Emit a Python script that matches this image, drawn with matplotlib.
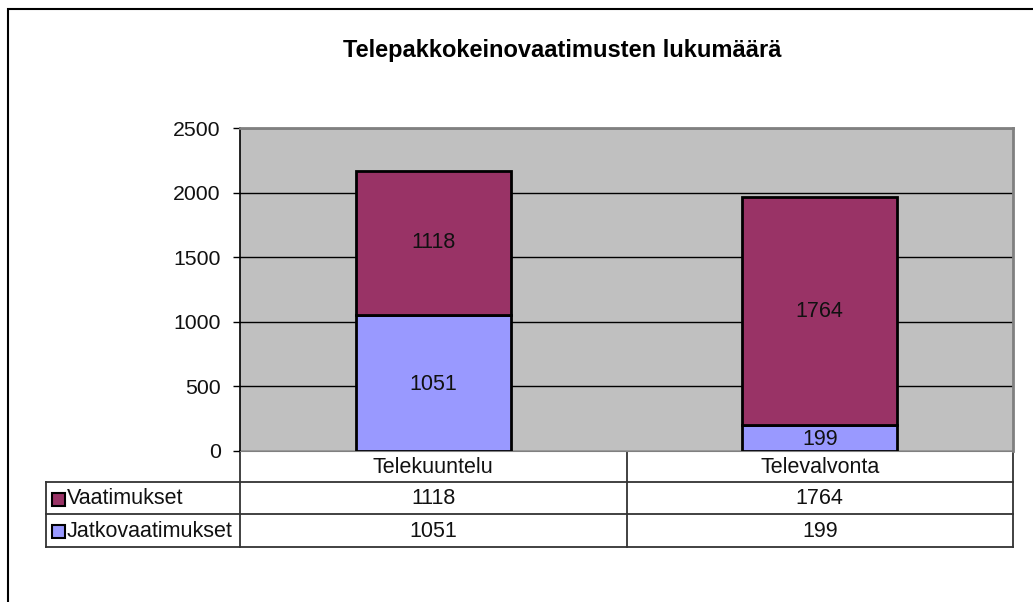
import matplotlib
matplotlib.use("Agg")
import matplotlib.pyplot as plt
from matplotlib.patches import Rectangle
import numpy as np

plt.rcParams['font.family'] = ['Liberation Sans', 'DejaVu Sans']

title = "Telepakkokeinovaatimusten lukumäärä"
categories = ["Telekuuntelu", "Televalvonta"]
series_names = ["Vaatimukset", "Jatkovaatimukset"]
vaatimukset = [1118, 1764]
jatkovaatimukset = [1051, 199]
yticks = [0, 500, 1000, 1500, 2000, 2500]

c_vaat = "#993366"
c_jatko = "#9999FF"

W, H = 1033, 602
fig = plt.figure(figsize=(W / 100, H / 100), dpi=100)

# overlay axes in pixel coordinates
ov = fig.add_axes([0, 0, 1, 1], zorder=0)
ov.set_xlim(0, W)
ov.set_ylim(H, 0)
ov.axis("off")

# outer frame (top & left visible)
ov.plot([8, 8, W + 5], [H + 5, 9, 9], color="black", lw=1.5, solid_joinstyle="miter")

L, R, T, B = 240, 1013, 128, 451
ax = fig.add_axes([L / W, (H - B) / H, (R - L) / W, (B - T) / H], zorder=1)
ax.set_facecolor("#C0C0C0")
x = np.arange(len(categories))
ax.set_xlim(-0.5, len(categories) - 0.5)
ax.set_ylim(0, 2500)
ax.set_yticks(yticks)
ax.set_yticklabels([str(v) for v in yticks], fontsize=15.3)
ax.yaxis.grid(True, color="black", lw=1)
ax.set_axisbelow(True)
ax.set_xticks([])
ax.tick_params(axis="y", length=5, width=1, pad=9, colors="black", labelcolor="#111111")
for s in ["top", "right"]:
    ax.spines[s].set_color("#808080")
    ax.spines[s].set_linewidth(2)
ax.spines["bottom"].set_color("#808080")
ax.spines["left"].set_color("black")
ax.spines["left"].set_linewidth(1.2)

bw = 0.4
b1 = ax.bar(x, jatkovaatimukset, bw, color=c_jatko, edgecolor="black", lw=2, zorder=3)
b2 = ax.bar(x, vaatimukset, bw, bottom=jatkovaatimukset, color=c_vaat, edgecolor="black", lw=2, zorder=3)
for i in range(len(categories)):
    ax.text(x[i], jatkovaatimukset[i] / 2 - 10, str(jatkovaatimukset[i]), ha="center", va="center",
            fontsize=15.5, color="#111111", zorder=4)
    ax.text(x[i], jatkovaatimukset[i] + vaatimukset[i] / 2, str(vaatimukset[i]), ha="center", va="center",
            fontsize=15.5, color="#111111", zorder=4)

fig.text(562 / W, 1 - 51 / H, title, ha="center", va="center", fontsize=17, fontweight="bold")

# data table
x0, x1, x3 = 46, L, R
colw = (x3 - x1) / len(categories)
col_edges = [x1 + i * colw for i in range(len(categories) + 1)]
rows_y = [451, 482, 514, 547]
lc = "#333333"
lw = 1.3
# horizontal lines
ov.plot([x1, x3], [rows_y[0], rows_y[0]], color=lc, lw=lw)
for yy in rows_y[1:]:
    ov.plot([x0, x3], [yy, yy], color=lc, lw=lw)
# vertical lines
for xe in col_edges:
    ov.plot([xe, xe], [rows_y[0], rows_y[-1]], color=lc, lw=lw)
ov.plot([x0, x0], [rows_y[1], rows_y[-1]], color=lc, lw=lw)

hdr_y = (rows_y[0] + rows_y[1]) / 2 + 1
for i, c in enumerate(categories):
    ov.text((col_edges[i] + col_edges[i + 1]) / 2, hdr_y, c, ha="center", va="center", fontsize=15.5, color="#111111")

table_rows = [(series_names[0], vaatimukset, c_vaat), (series_names[1], jatkovaatimukset, c_jatko)]
for r, (name, vals, col) in enumerate(table_rows):
    yc = (rows_y[r + 1] + rows_y[r + 2]) / 2 + 1
    ov.add_patch(Rectangle((52, yc - 6.5), 13, 13, facecolor=col, edgecolor="black", lw=1.5))
    ov.text(67, yc, name, ha="left", va="center", fontsize=15.5, color="#111111")
    for i, v in enumerate(vals):
        ov.text((col_edges[i] + col_edges[i + 1]) / 2, yc, str(v), ha="center", va="center",
                fontsize=15.5, color="#111111")

fig.savefig("out.png", dpi=100, facecolor="white")
